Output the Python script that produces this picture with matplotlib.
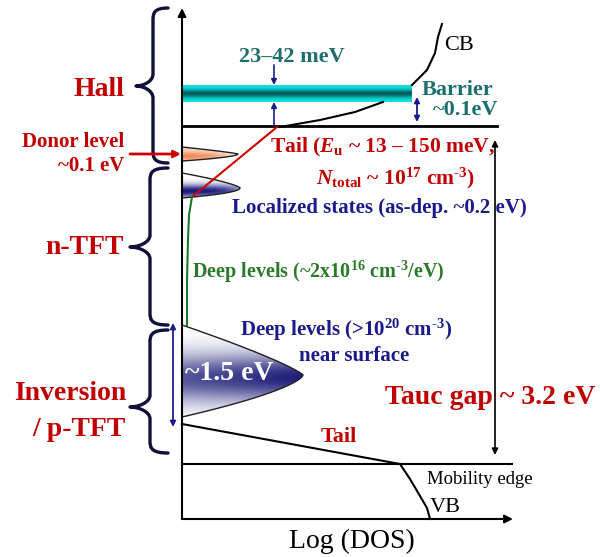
import numpy as np
import matplotlib
matplotlib.use("Agg")
import matplotlib.pyplot as plt
from matplotlib.path import Path
from matplotlib.patches import PathPatch, Polygon

# schematic DOS diagram, drawn in a 600x557 canvas (y grows downward = lower energy)
AXIS_X = 182          # energy axis (DOS = 0)
AXIS_Y = 519          # DOS axis
EC_EDGE = 126         # conduction band mobility edge
EV_EDGE = 464         # valence band mobility edge
BAR_TOP, BAR_BOT, BAR_END = 85, 102, 412

# curves (log DOS, energy)
cb_dos = [412, 427, 435, 438, 442]
cb_e = [85, 70, 53, 37, 24]
cb_tail_dos = [280, 320, 355, 383]
cb_tail_e = [127, 120, 112, 102]
red_tail_dos = [277, 192]
red_tail_e = [127, 197]
deep_green_dos = [192, 189, 188, 187, 187]
deep_green_e = [197, 215, 240, 280, 325]
vb_tail_dos = [182, 400]
vb_tail_e = [424, 464]
vb_dos = [400, 410, 420, 427, 430]
vb_e = [464, 479, 496, 508, 519]

# peaks: (top, centre, bottom, length, top exponent, bottom exponent)
donor_peak = (147, 154, 161, 56, 1.2, 1.8)
localized_peak = (173, 188, 198, 58, 1.4, 2.0)
surface_peak = (325, 375, 417, 121, 1.2, 1.5)

RED = "#c00000"
NAVY = "#1a1a8a"
TEAL = "#1f6e6e"
GREEN = "#2a7a2a"
HY = "\u2010"  # short hyphen used in the exponents

plt.rcParams["font.family"] = "Liberation Serif"
plt.rcParams["mathtext.fontset"] = "custom"
plt.rcParams["mathtext.rm"] = "Liberation Serif:bold"
plt.rcParams["mathtext.it"] = "Liberation Serif:italic:bold"
plt.rcParams["mathtext.bf"] = "Liberation Serif:bold"

fig = plt.figure(figsize=(6, 5.57), dpi=100)
ax = fig.add_axes([0, 0, 1, 1])


def peak_polygon(top, yc, bot, length, a_top, a_bot, n=60):
    d = np.linspace(1, 0, n)
    up_x = AXIS_X + length * (1 - d ** a_top)
    up_y = yc - (yc - top) * d
    d2 = np.linspace(0, 1, n)
    lo_x = AXIS_X + length * (1 - d2 ** a_bot)
    lo_y = yc + (bot - yc) * d2
    return np.column_stack([np.r_[up_x, lo_x], np.r_[up_y, lo_y]])


def gradient_fill(xy, rgb, weight, base="white", edge="#202020", lw=1.0, z=2):
    x0, x1 = xy[:, 0].min(), xy[:, 0].max()
    y0, y1 = xy[:, 1].min(), xy[:, 1].max()
    X, Y = np.meshgrid(np.linspace(x0, x1, 200), np.linspace(y0, y1, 200))
    f = np.clip(weight(X, Y), 0, 1)[..., None]
    c0 = np.array(matplotlib.colors.to_rgb(base))
    c1 = np.array(matplotlib.colors.to_rgb(rgb))
    img = (1 - f) * c0 + f * c1
    im = ax.imshow(img, extent=(x0, x1, y1, y0), origin="upper", aspect="auto",
                   interpolation="bilinear", zorder=z)
    patch = Polygon(xy, closed=True, facecolor="none", edgecolor=edge, lw=lw, zorder=z + 0.1)
    ax.add_patch(patch)
    im.set_clip_path(patch)


def brace(x_end, x_body, x_tip, y0, ym, y1, r=12):
    verts = [(x_end, y0),
             (x_body + (x_end - x_body) * 0.1, y0), (x_body, y0 + r * 0.4), (x_body, y0 + r),
             (x_body, ym - r),
             (x_body, ym - r * 0.35), (x_tip + (x_body - x_tip) * 0.4, ym), (x_tip, ym),
             (x_tip + (x_body - x_tip) * 0.4, ym), (x_body, ym + r * 0.35), (x_body, ym + r),
             (x_body, y1 - r),
             (x_body, y1 - r * 0.4), (x_body + (x_end - x_body) * 0.1, y1), (x_end, y1)]
    codes = [Path.MOVETO, Path.CURVE4, Path.CURVE4, Path.CURVE4, Path.LINETO,
             Path.CURVE4, Path.CURVE4, Path.CURVE4, Path.CURVE4, Path.CURVE4, Path.CURVE4,
             Path.LINETO, Path.CURVE4, Path.CURVE4, Path.CURVE4]
    ax.add_patch(PathPatch(Path(verts, codes), facecolor="none", edgecolor="#10103a", lw=2.4,
                           capstyle="round", joinstyle="round"))


def arrow(x0, y0, x1, y1, color, style="-|>", lw=1.3, ms=10):
    ax.annotate("", xy=(x1, y1), xytext=(x0, y0),
                arrowprops=dict(arrowstyle=style, color=color, lw=lw, shrinkA=0, shrinkB=0,
                                mutation_scale=ms))


# axes
arrow(AXIS_X, AXIS_Y, AXIS_X, 8, "black", lw=1.5, ms=12)
arrow(AXIS_X, AXIS_Y, 513, AXIS_Y, "black", lw=1.5, ms=12)
ax.plot([AXIS_X, 497], [EC_EDGE, EC_EDGE], color="black", lw=2)
ax.plot([AXIS_X, 512], [EV_EDGE, EV_EDGE], color="black", lw=1.5)

# barrier bar: bright cyan edges, dark teal core
bar_xy = np.array([[AXIS_X, BAR_TOP], [BAR_END, BAR_TOP], [BAR_END, BAR_BOT], [AXIS_X, BAR_BOT]])
bar_c = (BAR_TOP + BAR_BOT) / 2
gradient_fill(bar_xy, "#005a5a", lambda X, Y: np.exp(-((Y - bar_c) / 4.0) ** 2),
              base="#10e4e4", edge="none", lw=0)

# curves
ax.plot(cb_dos, cb_e, color="black", lw=1.5)
ax.plot(cb_tail_dos, cb_tail_e, color="black", lw=1.5)
ax.plot(vb_tail_dos, vb_tail_e, color="black", lw=1.5)
ax.plot(vb_dos, vb_e, color="black", lw=1.5)

# peaks
dp = peak_polygon(*donor_peak)
gradient_fill(dp, "#f08a58",
              lambda X, Y: (0.35 + 0.65 * np.exp(-((Y - 156) / 4) ** 2))
              * (1 - ((X - AXIS_X) / 56) ** 2.5), lw=1.0)
lp = peak_polygon(*localized_peak)
gradient_fill(lp, "#1a1a80",
              lambda X, Y: np.exp(-((Y - 191) / 6.5) ** 2) * (1 - 0.5 * ((X - AXIS_X) / 58) ** 4),
              lw=1.0)
sp = peak_polygon(*surface_peak)
gradient_fill(sp, "#1c1c78",
              lambda X, Y: np.exp(-((Y - 378) / 24) ** 2) * (0.75 + 0.25 * (X - AXIS_X) / 121),
              lw=1.0)

ax.plot(red_tail_dos, red_tail_e, color="#cc0000", lw=1.5, zorder=3)
ax.plot(deep_green_dos, deep_green_e, color="#1a7a2a", lw=1.5, zorder=3)

# arrows
arrow(274, 65, 274, BAR_TOP, NAVY, lw=1.2, ms=8)
arrow(274, EC_EDGE, 274, BAR_BOT, NAVY, lw=1.2, ms=8)
arrow(417, 97, 417, 122, NAVY, style="<|-|>", lw=1.3, ms=8)
arrow(495, 455, 495, 140, "black", style="<|-|>", lw=1.2, ms=9)
arrow(173, 323, 173, 427, NAVY, style="<|-|>", lw=1.3, ms=8)
arrow(130, 154, 181, 154, "#cc0000", lw=2.0, ms=10)

# braces
brace(168, 153, 136, 8, 86, 163)
brace(168, 150, 130, 168, 247, 325)
brace(168, 150, 130, 330, 407, 453)

# labels
bold = dict(fontweight="bold")
ax.text(124, 90, "Hall", color=RED, fontsize=20, ha="right", va="center", **bold)
ax.text(124, 142, "Donor level", color=RED, fontsize=15, ha="right", va="center", **bold)
ax.text(124, 166, "~0.1 eV", color=RED, fontsize=15, ha="right", va="center", **bold)
ax.text(124, 247, "n-TFT", color=RED, fontsize=20, ha="right", va="center", **bold)
ax.text(126, 394, "Inversion", color=RED, fontsize=20, ha="right", va="center", **bold)
ax.text(126, 430, "/ p-TFT", color=RED, fontsize=20, ha="right", va="center", **bold)

ax.text(292, 57, "23\u201342 meV", color=TEAL, fontsize=16, ha="center", va="center", **bold)
ax.text(422, 90, "Barrier", color=TEAL, fontsize=16, ha="left", va="center", **bold)
ax.text(433, 110, "~0.1eV", color=TEAL, fontsize=16, ha="left", va="center", **bold)
ax.text(444, 45, "CB", color="black", fontsize=16, ha="left", va="center")

ax.text(270, 147, "Tail ($E_\\mathrm{u}$ ~ 13 \u2013 150 meV,",
        color=RED, fontsize=15.5, ha="left", va="center", **bold)
ax.text(316, 178, "$N_\\mathrm{total}$ ~ 10$^{17}$ cm$^{" + HY + "3}$)", color=RED,
        fontsize=15.5, ha="left", va="center", **bold)
ax.text(232, 208, "Localized states (as-dep. ~0.2 eV)", color=NAVY, fontsize=15,
        ha="left", va="center", **bold)
ax.text(192, 272, "Deep levels (~2x10$^{16}$ cm$^{" + HY + "3}$/eV)", color=GREEN,
        fontsize=14.5, ha="left", va="center", **bold)
ax.text(240, 330, "Deep levels (>10$^{20}$ cm$^{" + HY + "3}$)", color=NAVY, fontsize=15,
        ha="left", va="center", **bold)
ax.text(354, 356, "near surface", color=NAVY, fontsize=15, ha="center", va="center", **bold)
ax.text(229, 373, "~1.5 eV", color="white", fontsize=20, ha="center", va="center", zorder=5,
        **bold)
ax.text(385, 397, "Tauc gap ~ 3.2 eV", color=RED, fontsize=20, ha="left", va="center", **bold)
ax.text(339, 437, "Tail", color=RED, fontsize=16, ha="center", va="center", **bold)
ax.text(427, 480, "Mobility edge", color="black", fontsize=13.5, ha="left", va="center")
ax.text(430, 507, "VB", color="black", fontsize=16, ha="left", va="center")
ax.text(352, 541, "Log (DOS)", color="black", fontsize=20, ha="center", va="center")

ax.set_xlim(0, 600)
ax.set_ylim(557, 0)
ax.axis("off")
fig.savefig("out.png", dpi=100)
